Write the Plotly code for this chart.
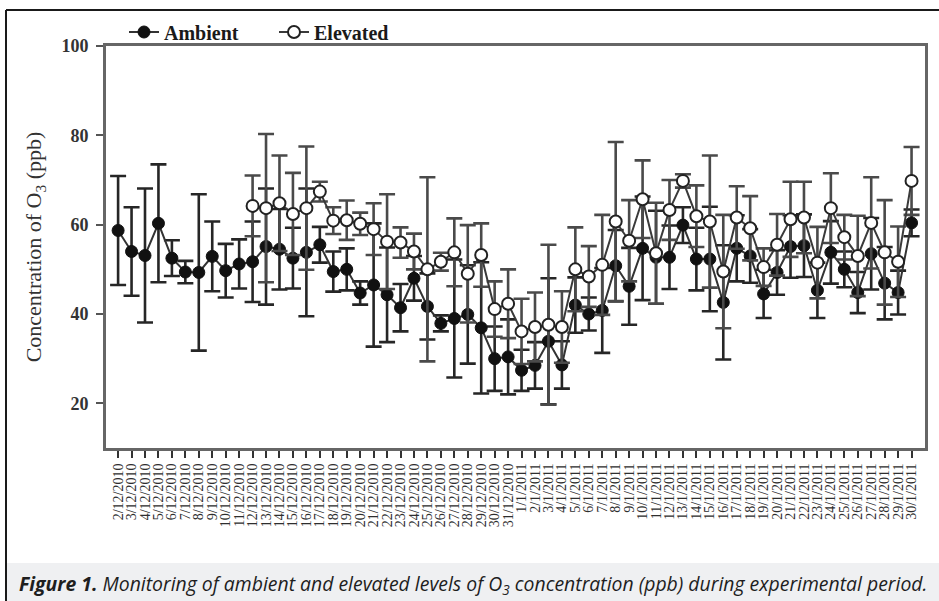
import plotly.graph_objects as go

# Sampling dates (day/month/year)
dates = [
    "2/12/2010", "3/12/2010", "4/12/2010", "5/12/2010", "6/12/2010", "7/12/2010",
    "8/12/2010", "9/12/2010", "10/12/2010", "11/12/2010", "12/12/2010", "13/12/2010",
    "14/12/2010", "15/12/2010", "16/12/2010", "17/12/2010", "18/12/2010", "19/12/2010",
    "20/12/2010", "21/12/2010", "22/12/2010", "23/12/2010", "24/12/2010", "25/12/2010",
    "26/12/2010", "27/12/2010", "28/12/2010", "29/12/2010", "30/12/2010", "31/12/2010",
    "1/1/2011", "2/1/2011", "3/1/2011", "4/1/2011", "5/1/2011", "6/1/2011",
    "7/1/2011", "8/1/2011", "9/1/2011", "10/1/2011", "11/1/2011", "12/1/2011",
    "13/1/2011", "14/1/2011", "15/1/2011", "16/1/2011", "17/1/2011", "18/1/2011",
    "19/1/2011", "20/1/2011", "21/1/2011", "22/1/2011", "23/1/2011", "24/1/2011",
    "25/1/2011", "26/1/2011", "27/1/2011", "28/1/2011", "29/1/2011", "30/1/2011",
]

# Ambient O3 (ppb), mean and error
ambient = [58.7, 54.0, 53.1, 60.3, 52.5, 49.4, 49.3, 52.9, 49.7, 51.2,
           51.7, 55.1, 54.5, 52.5, 53.8, 55.5, 49.5, 50.0, 44.7, 46.5,
           44.3, 41.4, 48.0, 41.7, 37.9, 39.0, 39.9, 36.9, 30.0, 30.4,
           27.4, 28.5, 33.9, 28.6, 42.0, 40.0, 40.8, 50.8, 46.2, 54.7,
           52.7, 52.7, 59.9, 52.3, 52.3, 42.6, 54.7, 53.0, 44.5, 49.3,
           55.1, 55.3, 45.3, 53.8, 50.0, 44.8, 53.5, 46.9, 44.8, 60.4]
ambient_err = [12.2, 9.9, 15.0, 13.2, 4.0, 2.5, 17.5, 7.8, 6.0, 5.5,
               9.0, 13.0, 9.0, 6.8, 14.3, 4.0, 4.5, 4.7, 2.6, 13.8,
               10.6, 5.3, 5.0, 7.4, 1.8, 13.2, 11.0, 14.7, 7.2, 8.4,
               4.6, 5.2, 14.1, 5.3, 6.2, 3.7, 9.5, 8.0, 8.6, 11.6,
               10.4, 7.1, 4.0, 7.0, 11.7, 12.8, 7.4, 6.0, 5.4, 5.0,
               7.0, 7.0, 6.2, 7.0, 4.0, 4.6, 8.0, 8.1, 4.9, 3.0]

# Elevated O3 (ppb), recorded from the 11th sampling date onwards
elevated_dates = dates[10:]
elevated = [64.2, 63.7, 64.8, 62.4, 63.7, 67.4, 60.9, 61.0, 60.2, 59.0,
            56.2, 56.0, 54.0, 50.0, 51.7, 53.8, 49.0, 53.2, 41.1, 42.3,
            36.1, 37.1, 37.6, 37.1, 50.0, 48.4, 51.0, 60.7, 56.4, 65.7,
            53.6, 63.3, 69.8, 61.9, 60.7, 49.5, 61.6, 59.2, 50.5, 55.5,
            61.2, 61.6, 51.5, 63.7, 57.2, 53.0, 60.4, 53.8, 51.7, 69.8]
elevated_err = [6.8, 16.6, 10.7, 9.2, 13.8, 2.2, 3.0, 4.4, 2.5, 5.8,
                10.6, 3.4, 4.0, 20.6, 2.0, 7.6, 10.9, 7.1, 6.2, 7.7,
                7.3, 7.7, 17.9, 8.0, 9.4, 6.8, 11.2, 17.8, 9.1, 8.7,
                11.3, 6.7, 1.5, 6.9, 14.8, 12.7, 7.0, 7.2, 4.2, 6.9,
                8.4, 8.0, 8.0, 7.8, 5.0, 9.0, 10.2, 11.7, 7.9, 7.6]

y_ticks = [20, 40, 60, 80, 100]

W, H = 939, 601
L, R, T, B = 106, 14, 46, 153
PW, PH = W - L - R, H - T - B


def px(x):
    return (x - L) / PW


def py(y):
    return (H - B - y) / PH


SERIF = "Liberation Serif, Times New Roman, serif"

fig = go.Figure()

fig.add_trace(go.Scatter(
    x=dates, y=ambient, name="Ambient", mode="lines+markers",
    line=dict(color="#333333", width=2),
    marker=dict(symbol="circle", size=12, color="#111111",
                line=dict(color="#111111", width=1)),
    error_y=dict(type="data", array=ambient_err, visible=True,
                 color="#262626", thickness=2.6, width=8),
))

fig.add_trace(go.Scatter(
    x=elevated_dates, y=elevated, name="Elevated", mode="lines+markers",
    line=dict(color="#3a3a3a", width=2),
    marker=dict(symbol="circle", size=12, color="#ffffff",
                line=dict(color="#222222", width=2)),
    error_y=dict(type="data", array=elevated_err, visible=True,
                 color="#4a4a4a", thickness=2.6, width=8),
))

# Outer frame and caption band
fig.add_shape(type="rect", xref="paper", yref="paper",
              x0=px(6), x1=px(W + 5), y0=py(563), y1=py(H + 5),
              fillcolor="#eff0f2", line=dict(width=0), layer="below")
fig.add_shape(type="line", xref="paper", yref="paper",
              x0=px(6), x1=px(6), y0=py(10), y1=py(H + 5),
              line=dict(color="#1a1a1a", width=2))
fig.add_shape(type="line", xref="paper", yref="paper",
              x0=px(6), x1=px(W + 5), y0=py(10), y1=py(10),
              line=dict(color="#1a1a1a", width=2))

fig.add_annotation(
    xref="paper", yref="paper", x=px(17), y=py(584),
    xanchor="left", yanchor="middle", showarrow=False,
    text="<b><i>Figure 1.</i></b><i> Monitoring of ambient and elevated levels of "
         "O<sub>3</sub> concentration (ppb) during experimental period.</i>",
    font=dict(family="Open Sans, Lato, sans-serif", size=19.4, color="#1e1e1e"),
)

fig.update_layout(
    width=W, height=H,
    margin=dict(l=L, r=R, t=T, b=B),
    paper_bgcolor="#ffffff", plot_bgcolor="#ffffff",
    showlegend=True,
    legend=dict(orientation="h", x=px(124), y=py(32), xanchor="left",
                yanchor="middle", bgcolor="rgba(0,0,0,0)",
                font=dict(family=SERIF, size=20, color="#1a1a1a", weight="bold"),
                entrywidth=105, entrywidthmode="pixels",
                itemclick=False),
    xaxis=dict(
        type="category", range=[-0.9, 60.0],
        tickmode="array", tickvals=dates, ticktext=dates,
        tickangle=-90, ticks="outside", ticklen=7, tickwidth=2,
        tickcolor="#333333",
        tickfont=dict(family=SERIF, size=14, color="#2e2e2e"),
        showline=True, linecolor="#666666", linewidth=3, mirror=True,
        showgrid=False, zeroline=False,
    ),
    yaxis=dict(
        range=[10, 100], tickmode="array", tickvals=y_ticks,
        ticks="outside", ticklen=7, tickwidth=2, tickcolor="#555555",
        tickfont=dict(family=SERIF, size=18, color="#333333", weight="bold"),
        ticklabelstandoff=4,
        showline=True, linecolor="#666666", linewidth=3, mirror=True,
        showgrid=False, zeroline=False,
        title=dict(text="Concentration of O<sub>3</sub> (ppb)", standoff=14,
                   font=dict(family=SERIF, size=22, color="#333333")),
    ),
)

fig.write_html("out.html")
